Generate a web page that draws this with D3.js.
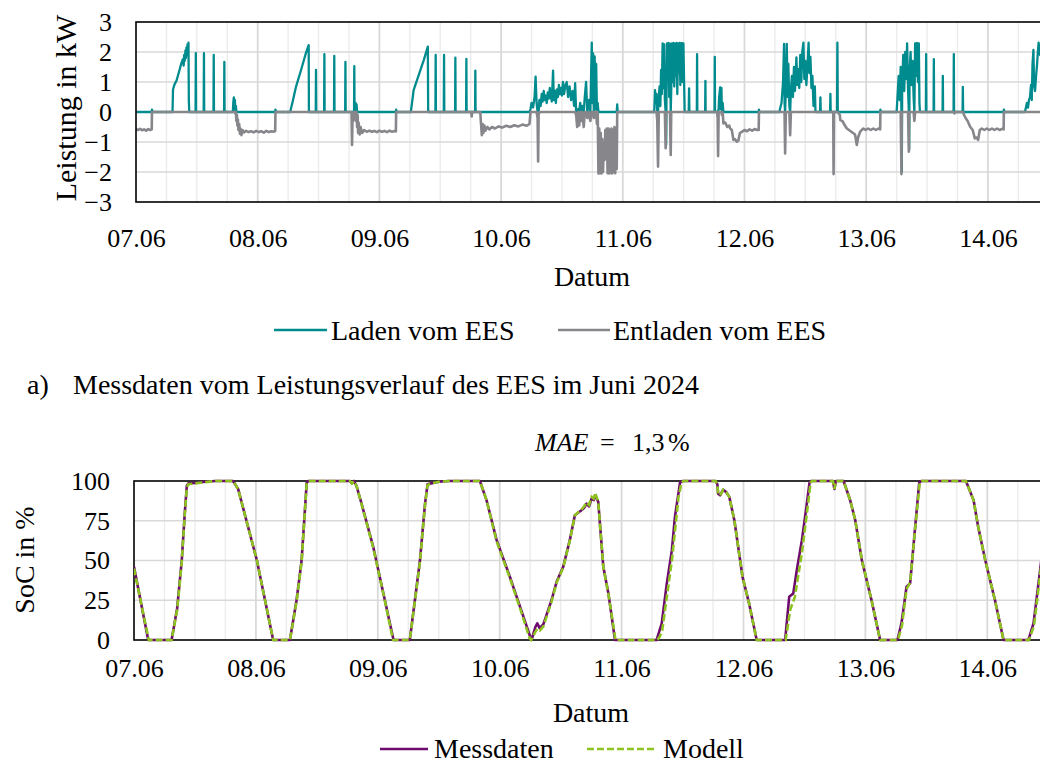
<!DOCTYPE html>
<html lang="de">
<head>
<meta charset="utf-8">
<script src="https://cdn.jsdelivr.net/npm/d3@7"></script>
<style>
  html, body { margin: 0; padding: 0; background: #ffffff; }
  svg { display: block; }
</style>
</head>
<body>
<svg id="chart" width="1040" height="765"></svg>
<script>
// Achsenbeschriftungen
const tage = ["07.06", "08.06", "09.06", "10.06", "11.06", "12.06", "13.06", "14.06"];
const tagStunden = [0, 24, 48, 72, 96, 120, 144, 168];
const leistungTicks = [-3, -2, -1, 0, 1, 2, 3];
const socTicks = [0, 25, 50, 75, 100];

// Leistung des EES in kW, [Stunden ab 07.06. 00:00, kW] (positiv = Laden, negativ = Entladen).
// Ein drittes Feld 1 kennzeichnet negative Messpunkte, die zur Reihe "Laden" gehören.
const leistungKW = [
  [0,-0.57],[0.4,-0.6],[0.8,-0.56],[1.2,-0.61],[1.6,-0.58],[2.0,-0.62],[2.4,-0.57],[2.8,-0.6],[3.1,-0.58],[3.15,0.08],[3.25,0],
  [7.2,0],[7.3,0.75],[7.6,0.92],[8.0,1.05],[8.5,1.35],[8.9,1.6],[9.2,1.75],[9.4,1.55],[9.5,1.9],[9.6,1.7],[9.75,2.05],[9.85,1.8],[9.95,2.15],[10.05,1.9],[10.15,2.25],[10.25,2.0],[10.35,2.31],[10.42,0.4],[10.5,0],
  [11.75,0],[11.8,1.96],[11.85,0],
  [13.35,0],[13.4,1.96],[13.45,0],
  [15.28,0],[15.33,1.9],[15.38,0],
  [17.37,0],[17.42,1.67],[17.47,0],
  [19.1,0],[19.2,0.35],[19.3,0.49],[19.4,0.25],[19.5,0.4],[19.6,-0.05],[19.7,0.2],[19.8,-0.3],[19.9,-0.1],[20.0,-0.45],[20.1,-0.25],[20.2,-0.6],[20.35,-0.4],[20.5,-0.72],[20.6,-0.55],[20.8,-0.77],[21.0,-0.6],[21.3,-0.68],[21.7,-0.63],[22.2,-0.67],[22.7,-0.64],[23.2,-0.68],[23.7,-0.63],[24.2,-0.67],[24.7,-0.64],[25.2,-0.69],[25.7,-0.63],[26.2,-0.67],[26.7,-0.64],[27.2,-0.66],[27.45,-0.63],[27.5,0.08],[27.6,0],
  [30.4,0],[30.9,0.35],[31.55,0.84],[32.55,1.4],[33.5,1.96],[34.05,2.23],[34.1,0],
  [35.45,0],[35.5,1.4],[35.55,0],
  [37.1,0],[37.15,1.93],[37.2,0],
  [39.05,0],[39.1,1.87],[39.15,0],
  [41.25,0],[41.3,1.67],[41.35,0],
  [42.5,0],[42.6,-1.1],[42.7,-0.2],[42.85,-0.3],[43.0,0],[43.05,1.53],[43.1,0],[43.3,0.3],[43.4,-0.3],[43.5,0.25],[43.6,-0.5],[43.7,-0.1],[43.8,-0.7],[43.9,-0.35],[44.1,-0.75],[44.3,-0.5],[44.6,-0.7],[45.0,-0.6],[45.5,-0.66],[46.0,-0.62],[46.5,-0.66],[47.0,-0.63],[47.5,-0.67],[48.0,-0.62],[48.5,-0.66],[49.0,-0.63],[49.5,-0.67],[50.0,-0.62],[50.5,-0.66],[51.0,-0.63],[51.25,-0.65],[51.3,0.08],[51.4,0],
  [54.2,0],[54.75,0.73],[55.75,1.23],[56.75,1.73],[57.55,2.18],[57.62,0],
  [59.05,0],[59.1,1.9],[59.15,0],
  [60.7,0],[60.75,1.9],[60.8,0],
  [62.93,0],[62.98,1.81],[63.03,0],
  [65.1,0],[65.15,1.77],[65.2,0],
  [66.1,0],[66.2,-0.15],[66.3,0],[66.87,0],[66.92,1.38],[66.97,0],
  [67.9,0],[68.0,-0.3],[68.2,-0.77],[68.35,-0.4],[68.5,-0.7],[68.7,-0.45],[68.9,-0.62],[69.3,-0.5],[69.7,-0.58],[70.2,-0.5],[70.8,-0.55],[71.5,-0.48],[72.2,-0.52],[73.0,-0.46],[73.8,-0.5],[74.6,-0.44],[75.4,-0.48],[76.2,-0.42],[77.0,-0.46],[77.6,-0.4],
  [77.8,0.1],[78.0,0.3],[78.3,0.15],[78.6,0.5],[78.8,1.18],[79.0,0.3],[79.2,-0.2],[79.3,-1.65],[79.4,-0.1],[79.55,0.4],[79.8,0.2],[80.0,0.6],[80.2,0.35],[80.4,0.7],[80.6,0.4],[80.8,0.55],[81.0,0.3],[81.2,0.65],[81.4,0.45],[81.6,0.8],[81.8,0.5],[82.0,0.35],[82.25,1.38],[82.4,0.4],[82.6,0.7],[82.8,0.3],[83.0,0.75],[83.2,0.5],[83.4,0.9],[83.6,0.6],[83.8,0.8],[84.0,0.55],[84.2,1.0],[84.4,0.6],[84.7,0.9],[84.95,1.0],[85.2,0.5],[85.5,0.85],[85.8,0.4],[86.1,0.7],[86.4,0.2],[86.6,0.96],[86.8,-0.1],[87.0,-0.5],[87.2,0.1],[87.4,-0.45],[87.6,0.3],[87.8,-0.3],[88.0,0.2],[88.3,-0.5],[88.5,0.5],[88.76,1.0],[89.0,-0.2],[89.3,0.4],[89.6,-0.3],[89.88,2.31],[90.0,0.3],[90.15,1.95],[90.3,-0.2],[90.45,1.85],[90.6,0.1],[90.75,1.6],[90.9,-0.4],[91.05,0.3],
  [91.2,-2.05],[91.35,-0.55],[91.5,-2.04],[91.65,-0.7],[91.8,-2.05],[91.95,-0.9],[92.1,-2.0],[92.25,-1.0],[92.4,-1.6],[92.55,-0.6],[92.7,-1.55],[92.85,-0.55],[93.0,-2.04],[93.15,-0.55],[93.3,-2.05],[93.45,-0.6],[93.6,-2.03],[93.75,-0.55],[93.9,-2.05],[94.05,-0.6],[94.2,-2.0],[94.35,-0.5],[94.5,-2.04],[94.65,-0.55],[94.8,-1.9],[94.9,0.25],[95.0,0],
  [102.2,0],[102.35,0.73],[102.5,0.3],[102.65,0.6],[102.8,-0.3],[102.95,-1.82],[103.1,0.5],[103.25,0.85],[103.4,0.2],[103.55,1.4],[103.7,0.6],[103.85,2.29],[104.0,0.8],[104.15,2.25],[104.3,0.4],[104.45,-1.21],[104.55,-1.1,1],[104.7,2.29],[104.85,1.2],[105.0,2.3],[105.15,0.5],[105.3,2.28],[105.45,-1.43],[105.55,0.7],[105.7,2.29],[105.85,1.0],[106.0,2.3],[106.15,0.85],[106.3,2.28],[106.45,1.2],[106.6,2.3],[106.75,0.6],[106.9,2.29],[107.05,1.3],[107.2,2.3],[107.35,0.9],[107.5,2.29],[107.65,2.3],[107.8,1.0],[107.95,2.29],[108.1,0.9],[108.2,0],
  [109.0,0],[109.07,0.79],[109.14,0],
  [110.6,0],[110.65,1.93],[110.7,0],
  [112.24,0],[112.29,1.04],[112.34,0],
  [114.09,0],[114.14,1.84],[114.19,0],
  [114.6,0],[114.7,-0.2],[114.79,-1.47],[114.9,0.1],[115.0,0.5],[115.2,0.82],[115.3,0.1],[115.45,0.8],[115.55,-0.1],[115.7,0.3],[115.84,-0.38],[116.2,-0.35],[116.6,-0.5],[117.0,-0.45],[117.16,-0.55],[117.5,-0.6],[117.81,-0.93],[118.1,-0.9],[118.48,-0.99],[118.8,-0.95],[119.1,-0.7],[119.47,-0.66],[120.0,-0.6],[120.5,-0.64],[121.0,-0.58],[121.5,-0.62],[122.0,-0.57],[122.5,-0.6],[122.8,-0.6],[122.85,0.08],[122.95,0],
  [126.9,0],[127.0,0.1],[127.3,0.3],[127.6,1.0],[127.8,2.27],[127.9,0.3],[128.01,-1.38],[128.15,0.8],[128.34,2.27],[128.5,0.5],[128.65,1.6],[128.85,0.2],[129.0,-0.77],[129.15,0.73],[129.35,1.2],[129.55,0.5],[129.75,1.5],[129.95,0.7],[130.24,1.82],[130.4,0.9],[130.6,1.43],[130.8,0.8],[131.0,1.9],[131.2,1.0],[131.4,2.0],[131.62,2.31],[131.8,1.1],[132.0,1.7],[132.2,0.9],[132.4,1.5],[132.64,2.31],[132.8,1.3],[133.0,1.84],[133.2,0.8],[133.4,1.2],[133.6,0.2],[133.87,0.85],[134.0,0],
  [134.9,0],[134.97,0.49],[135.04,0],
  [136.87,0],[136.94,0.6],[137.0,0],
  [137.5,0],[137.57,-2.07],[137.64,0],
  [138.25,0],[138.32,2.31],[138.4,0],
  [138.8,-0.1],[138.9,-0.27],[139.3,-0.3],[139.8,-0.45],[140.18,-0.55],[140.6,-0.6],[141.0,-0.65],[141.48,-0.71],[141.8,-0.75],[142.15,-1.1],[142.4,-0.85],[142.8,-0.66],[143.1,-0.6],[143.45,-0.55],[143.9,-0.6],[144.4,-0.55],[144.9,-0.6],[145.4,-0.55],[145.9,-0.6],[146.4,-0.55],[146.75,-0.58],[146.8,0.08],[146.9,0],
  [150.0,0],[150.2,0.6],[150.4,1.2],[150.6,0.4],[150.8,1.5],[150.95,-2.07],[151.02,-2.0,1],[151.1,0.9],[151.3,1.9],[151.5,0.7],[151.7,2.0],[151.9,1.1],[152.07,2.29],[152.25,0.8],[152.41,-1.32],[152.48,-1.25,1],[152.55,1.3],[152.75,2.0],[152.95,0.9],[153.15,1.7],[153.35,0.5],[153.5,-0.3],[153.65,2.29],[153.8,1.2],[154.0,2.3],[154.2,1.0],[154.38,2.29],[154.5,0.3],[154.6,0],
  [155.77,0],[155.82,1.93],[155.87,0],
  [157.29,0],[157.34,1.76],[157.39,0],
  [159.06,0],[159.11,1.2],[159.16,0],
  [161.23,0],[161.28,1.93],[161.33,0],[161.4,-0.05],[161.5,0],
  [163.0,0],[163.06,0.84],[163.12,0],
  [163.3,-0.1],[163.6,-0.2],[164.0,-0.3],[164.5,-0.49],[165.0,-0.6],[165.42,-0.88],[165.8,-0.85],[166.07,-0.93],[166.4,-0.6],[166.8,-0.55],[167.3,-0.6],[167.8,-0.55],[168.3,-0.6],[168.8,-0.55],[169.3,-0.6],[169.8,-0.55],[170.3,-0.6],[170.8,-0.56],[171.1,-0.58],[171.15,0.08],[171.25,0],
  [175.3,0],[175.5,0.15],[175.7,0.3],[175.9,0.15],[176.1,0.4],[176.3,0.5],[176.5,0.9],[176.65,0.4],[176.8,1.6],[176.98,2.07],[177.1,0.9],[177.3,0.7],[177.5,1.2],[177.7,1.6],[177.85,2.0],[178.0,2.31],[178.3,1.9],[178.6,2.2]
];

// Ladezustand in %, gemessen
const socMessdaten = [
  [0,46],[2.8,0],[7.4,0],[8.5,20],[9.4,50],[10.0,80],[10.4,97],[10.7,98.5],[12,98.8],[14,99.5],[16,100],[19.5,100],[20.5,95],[24.2,50],[27.4,0],
  [30.7,0],[32,25],[33,50],[34,99],[34.3,100],[42.5,100],[42.9,98.5],[43.3,100],[43.8,97],[44.8,85.8],[47.1,58.6],[49.1,29.3],[51.1,0],
  [54.3,0],[56.3,50],[57.3,85.8],[57.8,98],[58.5,98.5],[60,99.5],[62,100],[68.1,100],[69.4,88],[71.4,62.8],[74,39.8],[76,21],[78,2.1],[78.3,0.3],
  [79.0,8],[79.4,10.5],[79.9,7.3],[80.6,10],[82.2,25],[83.2,36.6],[84.5,46],[85.8,62.8],[86.8,78.5],[88.1,81.6],[88.6,83],[89.1,85.8],[89.6,84],[90.1,89],[90.5,88],[90.8,91],[91.4,86.9],[92.4,46],[93.4,29.3],[94.7,0],
  [102.9,0],[103.9,10.5],[104.9,35.6],[105.9,56.5],[106.5,77.4],[107.5,99],[108,100],[114.5,100],[114.85,98],[115.0,92],[115.4,91],[116.0,94.5],[116.6,93],[117.2,90],[118.2,75.3],[119.8,39.8],[121.1,23],[122.6,0],
  [128.2,0],[129,27.2],[129.8,29.3],[130.5,44],[131.5,62.8],[132.3,81.6],[133,99],[133.3,100],[137.6,100],[137.9,95],[138.2,100],[139.7,100],[141,87.9],[142,75.3],[143.3,50.2],[145.2,25.1],[146.9,0],
  [150.3,0],[151.1,10.5],[152.1,33.5],[152.8,35.6],[153.8,71.2],[154.6,99],[155,100],[163.8,100],[165.3,87.9],[166.2,71.2],[167.6,50.2],[169.5,25.1],[171.2,0],
  [176.1,0],[177.1,10.5],[178.4,44],[179,60]
];

// Ladezustand in %, Modell
const socModell = [
  [0,45],[2.9,0],[7.4,0],[8.5,19],[9.4,49],[10.0,79],[10.4,96],[10.7,98],[12,98.5],[14,99.3],[16,100],[19.5,100],[20.5,95],[24.2,50],[27.4,0],
  [30.7,0],[32,24],[33,49],[34,98.5],[34.4,100],[42.5,100],[42.9,98.5],[43.3,100],[43.8,97],[44.8,85.5],[47.1,58],[49.1,29],[51.0,0],
  [54.3,0],[56.3,49],[57.3,85],[57.8,97.5],[58.5,98.5],[60,99.5],[62,100],[68.1,100],[69.4,88],[71.4,62],[74,39],[76,20],[77.9,1],[78.2,0],
  [79.0,5],[79.4,7],[79.9,6],[80.6,8.5],[82.2,24],[83.2,36],[84.5,45.5],[85.8,62.5],[86.8,78.5],[88.1,82],[88.6,84],[89.1,86.5],[89.6,85],[90.1,90],[90.5,89],[90.8,92.5],[91.4,87],[92.4,46],[93.4,29],[94.8,0],
  [103.0,0],[103.5,2],[104.0,6],[104.9,27],[105.9,50],[106.5,68],[107.2,90],[107.8,99],[108.2,100],[114.5,100],[114.85,98],[115.0,92],[115.4,91],[116.0,94.5],[116.6,93],[117.2,90],[118.2,75.3],[119.8,39.8],[121.1,23],[122.6,0],
  [128.3,0],[129.2,19],[130.1,27],[130.6,37],[131.5,55],[132.3,75],[132.8,88],[133.2,99],[133.5,100],[137.6,100],[137.9,95],[138.2,100],[139.7,100],[141,87.9],[142,75.3],[143.3,50.2],[145.2,25.1],[146.9,0],
  [150.4,0],[151.2,9],[152.1,32],[152.8,36],[153.8,70],[154.7,99],[155.1,100],[163.8,100],[165.3,87.9],[166.2,71.2],[167.6,50.2],[169.5,25.1],[171.2,0],
  [176.2,0],[177.2,9],[178.4,41],[179,58]
];

// Farben
const farbeLaden = "#008b8e";
const farbeEntladen = "#86868b";
const farbeMess = "#6e0a6e";
const farbeModell = "#8dc21f";
const gitterHell = "#ececec";
const gitterDunkel = "#d9d9d9";
const schrift = "'Liberation Serif', 'Times New Roman', serif";

const svg = d3.select("#chart");
svg.append("rect").attr("width", 1040).attr("height", 765).attr("fill", "#fff");

// Textelemente mit einheitlicher Schrift
function text(parent, size) {
  return parent.append("text").style("font-family", schrift).style("font-size", size + "px").attr("fill", "#000");
}

const gridStunden = d3.range(6, 180, 6);

// ---------- oberes Diagramm: Leistungsverlauf ----------
const rP = { left: 136, right: 136 + 7.5 * 121.7, top: 22, bottom: 202 };
const xP = d3.scaleLinear().domain([0, 180]).range([rP.left, rP.right]);
const yP = d3.scaleLinear().domain([-3, 3]).range([rP.bottom, rP.top]);

const gP = svg.append("g");
gP.append("clipPath").attr("id", "clipP").append("rect")
  .attr("x", rP.left).attr("y", rP.top - 2)
  .attr("width", rP.right - rP.left).attr("height", rP.bottom - rP.top + 4);

gP.append("g").selectAll("line").data(gridStunden).join("line")
  .attr("x1", d => xP(d)).attr("x2", d => xP(d))
  .attr("y1", rP.top).attr("y2", rP.bottom)
  .attr("stroke", d => d % 24 === 0 ? gitterDunkel : gitterHell)
  .attr("stroke-width", d => d % 24 === 0 ? 1.8 : 1.4);
gP.append("g").selectAll("line").data(leistungTicks.filter(v => v !== 0 && Math.abs(v) !== 3)).join("line")
  .attr("x1", rP.left).attr("x2", rP.right)
  .attr("y1", d => yP(d)).attr("y2", d => yP(d))
  .attr("stroke", gitterDunkel).attr("stroke-width", 1.6);

// Nulllinie
gP.append("line").attr("x1", rP.left).attr("x2", rP.right)
  .attr("y1", yP(0)).attr("y2", yP(0)).attr("stroke", "#000").attr("stroke-width", 1.6);

const lineP = d3.line().x(d => xP(d[0])).y(d => yP(d[1]));
const laden = leistungKW.map(([t, p, l]) => [t, l ? p : Math.max(p, 0)]);
const entladen = leistungKW.map(([t, p, l]) => [t, l ? 0 : Math.min(p, 0)]);

gP.append("path").datum(laden).attr("clip-path", "url(#clipP)")
  .attr("d", lineP).attr("fill", "none").attr("stroke", farbeLaden)
  .attr("stroke-width", 2.3).attr("stroke-linejoin", "round");
gP.append("path").datum(entladen).attr("clip-path", "url(#clipP)")
  .attr("d", lineP).attr("fill", "none").attr("stroke", farbeEntladen)
  .attr("stroke-width", 2.6).attr("stroke-linejoin", "round");

// Rahmen
gP.append("rect").attr("x", rP.left).attr("y", rP.top)
  .attr("width", rP.right - rP.left).attr("height", rP.bottom - rP.top)
  .attr("fill", "none").attr("stroke", "#000").attr("stroke-width", 1.6);

// Achsen
const axPY = gP.append("g").attr("transform", `translate(${rP.left},0)`)
  .call(d3.axisLeft(yP).tickValues(leistungTicks).tickSize(0).tickPadding(24).tickFormat(d3.format("d")));
const axPX = gP.append("g").attr("transform", `translate(0,${rP.bottom})`)
  .call(d3.axisBottom(xP).tickValues(tagStunden).tickSize(0).tickPadding(27).tickFormat((d, i) => tage[i]));
[axPY, axPX].forEach(a => {
  a.select(".domain").remove();
  a.selectAll("text").style("font-family", schrift).style("font-size", "26px").attr("fill", "#000");
});

text(svg, 30).attr("transform", "translate(76,108) rotate(-90)")
  .attr("text-anchor", "middle").text("Leistung in kW");
text(svg, 28).attr("x", 592).attr("y", 286).attr("text-anchor", "middle").text("Datum");

// Legende oben
const legP = svg.append("g");
legP.append("line").attr("x1", 274).attr("x2", 327).attr("y1", 330).attr("y2", 330)
  .attr("stroke", farbeLaden).attr("stroke-width", 2.3);
text(legP, 28).attr("x", 331).attr("y", 340).text("Laden vom EES");
legP.append("line").attr("x1", 558).attr("x2", 610).attr("y1", 330).attr("y2", 330)
  .attr("stroke", farbeEntladen).attr("stroke-width", 2.3);
text(legP, 28).attr("x", 613).attr("y", 340).text("Entladen vom EES");

// Unterschrift
text(svg, 28).attr("x", 27).attr("y", 394).text("a)");
text(svg, 28).attr("x", 73).attr("y", 394).text("Messdaten vom Leistungsverlauf des EES im Juni 2024");

// ---------- unteres Diagramm: Ladezustand ----------
const rS = { left: 134, right: 134 + 7.5 * 121.9, top: 481, bottom: 640 };
const xS = d3.scaleLinear().domain([0, 180]).range([rS.left, rS.right]);
const yS = d3.scaleLinear().domain([0, 100]).range([rS.bottom, rS.top]);

const mae = text(svg, 26).attr("y", 451);
mae.append("tspan").attr("x", 535).style("font-style", "italic").text("MAE");
mae.append("tspan").attr("x", 600).text("=");
mae.append("tspan").attr("x", 632).text("1,3");
mae.append("tspan").attr("x", 668).text("%");

const gS = svg.append("g");
gS.append("clipPath").attr("id", "clipS").append("rect")
  .attr("x", rS.left).attr("y", rS.top - 3)
  .attr("width", rS.right - rS.left).attr("height", rS.bottom - rS.top + 6);

gS.append("g").selectAll("line").data(gridStunden).join("line")
  .attr("x1", d => xS(d)).attr("x2", d => xS(d))
  .attr("y1", rS.top).attr("y2", rS.bottom)
  .attr("stroke", d => d % 24 === 0 ? gitterDunkel : gitterHell)
  .attr("stroke-width", d => d % 24 === 0 ? 1.8 : 1.4);
gS.append("g").selectAll("line").data(socTicks.filter(v => v > 0 && v < 100)).join("line")
  .attr("x1", rS.left).attr("x2", rS.right)
  .attr("y1", d => yS(d)).attr("y2", d => yS(d))
  .attr("stroke", gitterDunkel).attr("stroke-width", 1.6);

gS.append("rect").attr("x", rS.left).attr("y", rS.top)
  .attr("width", rS.right - rS.left).attr("height", rS.bottom - rS.top)
  .attr("fill", "none").attr("stroke", "#000").attr("stroke-width", 1.6);

const lineS = d3.line().x(d => xS(d[0])).y(d => yS(d[1]));
gS.append("path").datum(socMessdaten).attr("clip-path", "url(#clipS)")
  .attr("d", lineS).attr("fill", "none").attr("stroke", farbeMess)
  .attr("stroke-width", 2.6).attr("stroke-linejoin", "round");
gS.append("path").datum(socModell).attr("clip-path", "url(#clipS)")
  .attr("d", lineS).attr("fill", "none").attr("stroke", farbeModell)
  .attr("stroke-width", 2.6).attr("stroke-dasharray", "7,3");

const axSY = gS.append("g").attr("transform", `translate(${rS.left},0)`)
  .call(d3.axisLeft(yS).tickValues(socTicks).tickSize(0).tickPadding(24).tickFormat(d3.format("d")));
const axSX = gS.append("g").attr("transform", `translate(0,${rS.bottom})`)
  .call(d3.axisBottom(xS).tickValues(tagStunden).tickSize(0).tickPadding(19).tickFormat((d, i) => tage[i]));
[axSY, axSX].forEach(a => {
  a.select(".domain").remove();
  a.selectAll("text").style("font-family", schrift).style("font-size", "26px").attr("fill", "#000");
});

text(svg, 28).attr("transform", "translate(34,560) rotate(-90)")
  .attr("text-anchor", "middle").text("SoC in %");
text(svg, 28).attr("x", 591).attr("y", 722).attr("text-anchor", "middle").text("Datum");

// Legende unten
const legS = svg.append("g");
legS.append("line").attr("x1", 380).attr("x2", 428).attr("y1", 749).attr("y2", 749)
  .attr("stroke", farbeMess).attr("stroke-width", 2.6);
text(legS, 28).attr("x", 434).attr("y", 758).text("Messdaten");
legS.append("line").attr("x1", 587).attr("x2", 656).attr("y1", 749).attr("y2", 749)
  .attr("stroke", farbeModell).attr("stroke-width", 2.6).attr("stroke-dasharray", "7,3");
text(legS, 28).attr("x", 663).attr("y", 758).text("Modell");
</script>
</body>
</html>
